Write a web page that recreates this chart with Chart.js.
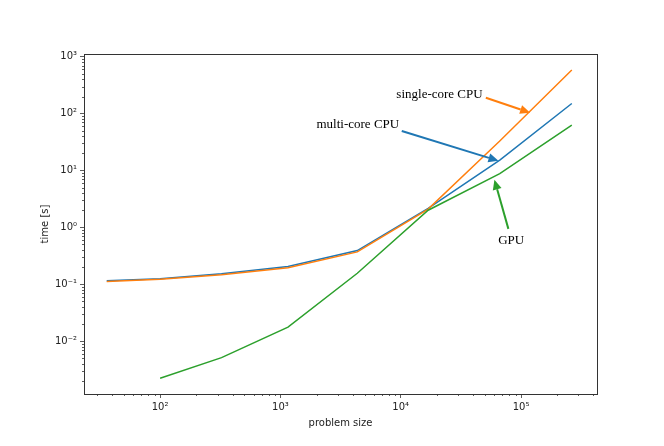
<!DOCTYPE html>
<html>
<head>
<meta charset="utf-8">
<script src="https://cdn.jsdelivr.net/npm/chart.js@4.4.0/dist/chart.umd.min.js"></script>
<style>
  html, body { margin: 0; padding: 0; background: #fff; }
  #wrap { width: 664px; height: 446px; }
</style>
</head>
<body>
<div id="wrap"><canvas id="c" width="664" height="446"></canvas></div>
<script>
// ---- data ----
const problemSizes = [36, 100, 324, 1156, 4356, 16900, 66564, 264196];
const singleCoreCPU = [0.112, 0.122, 0.147, 0.195, 0.37, 2.1, 33, 585];
const multiCoreCPU  = [0.115, 0.125, 0.152, 0.205, 0.39, 2.15, 15.2, 151];
const gpuTimes      = [null, 0.00222, 0.0051, 0.0176, 0.156, 2.0, 8.8, 63];

const xTickValues = [1e2, 1e3, 1e4, 1e5];
const xTickLabels = ['10²', '10³', '10⁴', '10⁵'];
const yTickValues = [1e-2, 1e-1, 1e0, 1e1, 1e2, 1e3];
const yTickLabels = ['10⁻²', '10⁻¹', '10⁰', '10¹', '10²', '10³'];

const xRange = [23.3, 428000];
const yRange = [0.00117, 1122];

// annotations in data coordinates: text position, arrow tail, arrow tip
const annotations = [
  { text: 'single-core CPU', color: '#ff7f0e', textAt: [21000, 219], tail: [51000, 191], tip: [119000, 104] },
  { text: 'multi-core CPU',  color: '#1f77b4', textAt: [4400, 65],   tail: [10200, 49.7], tip: [64900, 14.8] },
  { text: 'GPU',             color: '#2ca02c', textAt: [82800, 0.585], tail: [78500, 0.94], tip: [60100, 6.9] }
];

function toPoints(xs, ys) {
  const out = [];
  xs.forEach((x, i) => { if (ys[i] !== null) out.push({ x: x, y: ys[i] }); });
  return out;
}

const frameAndMinor = {
  id: 'frameAndMinor',
  afterDatasetsDraw(chart) {
    const ctx = chart.ctx;
    const a = chart.chartArea;
    const xs = chart.scales.x, ys = chart.scales.y;
    ctx.save();
    ctx.strokeStyle = '#333';
    ctx.lineWidth = 0.8;
    // minor ticks
    ctx.beginPath();
    for (let e = -4; e <= 6; e++) {
      for (let m = 2; m <= 9; m++) {
        const v = m * Math.pow(10, e);
        if (v > xs.min && v < xs.max) {
          const px = Math.round(xs.getPixelForValue(v)) + 0.5;
          ctx.moveTo(px, a.bottom); ctx.lineTo(px, a.bottom + 2);
        }
        if (v > ys.min && v < ys.max) {
          const py = Math.round(ys.getPixelForValue(v)) + 0.5;
          ctx.moveTo(a.left, py); ctx.lineTo(a.left - 2, py);
        }
      }
    }
    ctx.stroke();
    // frame
    ctx.strokeStyle = '#333';
    ctx.lineWidth = 1;
    ctx.strokeRect(Math.round(a.left) + 0.5, Math.round(a.top) + 0.5,
                   Math.round(a.right - a.left), Math.round(a.bottom - a.top));
    // annotations
    ctx.font = '13px "Liberation Serif", "DejaVu Serif", serif';
    ctx.textAlign = 'center';
    ctx.textBaseline = 'middle';
    annotations.forEach(an => {
      const tx = xs.getPixelForValue(an.textAt[0]), ty = ys.getPixelForValue(an.textAt[1]);
      ctx.fillStyle = '#000';
      ctx.fillText(an.text, tx, ty);
      const x0 = xs.getPixelForValue(an.tail[0]), y0 = ys.getPixelForValue(an.tail[1]);
      const x1 = xs.getPixelForValue(an.tip[0]), y1 = ys.getPixelForValue(an.tip[1]);
      const ang = Math.atan2(y1 - y0, x1 - x0);
      const hl = 10, hw = 4.5;
      const bx = x1 - hl * Math.cos(ang), by = y1 - hl * Math.sin(ang);
      ctx.strokeStyle = an.color;
      ctx.fillStyle = an.color;
      ctx.lineWidth = 2;
      ctx.beginPath();
      ctx.moveTo(x0, y0); ctx.lineTo(bx, by);
      ctx.stroke();
      ctx.beginPath();
      ctx.moveTo(x1, y1);
      ctx.lineTo(bx + hw * Math.sin(ang), by - hw * Math.cos(ang));
      ctx.lineTo(bx - hw * Math.sin(ang), by + hw * Math.cos(ang));
      ctx.closePath();
      ctx.fill();
    });
    ctx.restore();
  }
};

const tickFont = { family: '"DejaVu Sans", sans-serif', size: 10 };

new Chart(document.getElementById('c'), {
  type: 'line',
  data: {
    datasets: [
      { label: 'multi-core CPU', data: toPoints(problemSizes, multiCoreCPU), borderColor: '#1f77b4', borderWidth: 1.5, pointRadius: 0, fill: false, tension: 0, order: 3 },
      { label: 'single-core CPU', data: toPoints(problemSizes, singleCoreCPU), borderColor: '#ff7f0e', borderWidth: 1.5, pointRadius: 0, fill: false, tension: 0, order: 2 },
      { label: 'GPU', data: toPoints(problemSizes, gpuTimes), borderColor: '#2ca02c', borderWidth: 1.5, pointRadius: 0, fill: false, tension: 0, order: 1 }
    ]
  },
  options: {
    responsive: false,
    animation: false,
    devicePixelRatio: 1,
    layout: { padding: { left: 0, top: 54, right: 67, bottom: 0 } },
    plugins: { legend: { display: false }, tooltip: { enabled: false } },
    scales: {
      x: {
        type: 'logarithmic',
        bounds: 'data',
        min: xRange[0], max: xRange[1],
        afterBuildTicks(s) { s.ticks = xTickValues.map(v => ({ value: v, major: true })); },
        afterFit(s) { s.height = 52; },
        ticks: {
          autoSkip: false, maxRotation: 0, padding: 3, color: '#222', font: tickFont,
          callback(v) { const i = xTickValues.indexOf(v); return i >= 0 ? xTickLabels[i] : ''; }
        },
        grid: { display: true, drawOnChartArea: false, drawTicks: true, tickLength: 4, tickColor: '#333', tickWidth: 0.8 },
        border: { display: false },
        title: { display: true, text: 'problem size', color: '#222', font: tickFont, padding: { top: 4, bottom: 17 } }
      },
      y: {
        type: 'logarithmic',
        bounds: 'data',
        min: yRange[0], max: yRange[1],
        afterBuildTicks(s) { s.ticks = yTickValues.map(v => ({ value: v, major: true })); },
        afterFit(s) { s.width = 84; },
        ticks: {
          autoSkip: false, padding: 3, color: '#222', font: tickFont,
          callback(v) { const i = yTickValues.indexOf(v); return i >= 0 ? yTickLabels[i] : ''; }
        },
        grid: { display: true, drawOnChartArea: false, drawTicks: true, tickLength: 4, tickColor: '#333', tickWidth: 0.8 },
        border: { display: false },
        title: { display: true, text: 'time [s]', color: '#222', font: tickFont, padding: { top: 39, bottom: 4 } }
      }
    }
  },
  plugins: [frameAndMinor]
});
</script>
</body>
</html>
